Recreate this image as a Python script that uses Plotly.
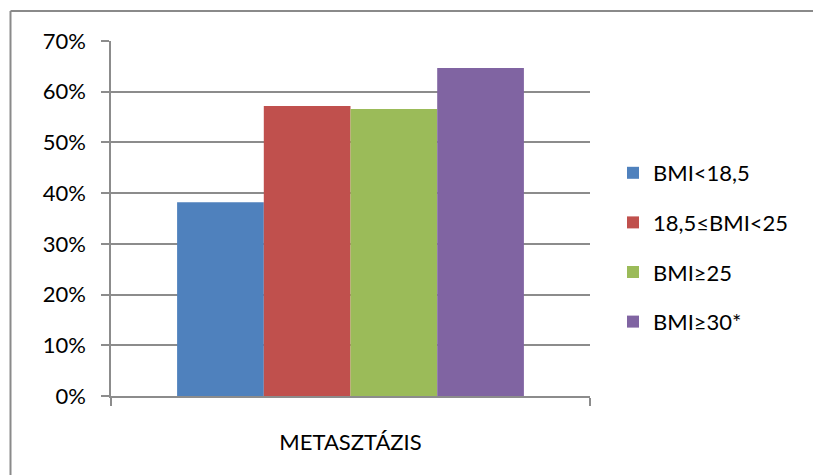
import plotly.graph_objects as go

# Share of patients with metastasis, by BMI group
category = ["METASZTÁZIS"]
groups = ["BMI<18,5", "18,5≤BMI<25", "BMI≥25", "BMI≥30*"]
values = [0.382, 0.572, 0.566, 0.647]
colors = ["#4F81BD", "#C0504D", "#9BBB59", "#8064A2"]

W, H = 813, 475
L, R, T, B = 111, 223, 41, 79
FONT = "Lato"
GRID = "#8C8C8C"
TXT = "#000000"

fig = go.Figure()
for i, (name, val, col) in enumerate(zip(groups, values, colors)):
    fig.add_trace(go.Bar(
        x=category, y=[val], name=name, marker_color=col,
        marker_line_width=0, legendgroup=f"g{i}",
    ))

pw = W - L - R
ph = H - T - B
def px_x(p):
    return (p - L) / pw
def px_y(p):
    return (H - B - p) / ph

# outer chart frame (left and top edges visible)
fig.add_shape(type="line", xref="paper", yref="paper",
              x0=px_x(10.5), x1=px_x(W + 5), y0=px_y(11), y1=px_y(11),
              line=dict(color="#8A8A8A", width=2))
fig.add_shape(type="line", xref="paper", yref="paper",
              x0=px_x(10.5), x1=px_x(10.5), y0=px_y(11), y1=px_y(H + 5),
              line=dict(color="#8A8A8A", width=2))

fig.update_layout(
    width=W, height=H,
    margin=dict(l=L, r=R, t=T, b=B, pad=0),
    paper_bgcolor="white", plot_bgcolor="white",
    barmode="group", bargap=0.276, bargroupgap=0,
    font=dict(family=FONT, size=22, color=TXT),
    showlegend=True,
    legend=dict(
        xref="container", yref="container",
        x=613 / W, y=1 - 152 / H, xanchor="left", yanchor="top",
        traceorder="grouped", tracegroupgap=18,
        font=dict(family=FONT, size=22, color=TXT),
        bgcolor="rgba(0,0,0,0)",
    ),
    xaxis=dict(
        showline=True, linecolor=GRID, linewidth=1.5,
        ticks="outside", tickson="boundaries", ticklen=8,
        tickcolor=GRID, tickwidth=1.5,
        ticklabelstandoff=26,
        tickfont=dict(family=FONT, size=22, color=TXT),
        showgrid=False, zeroline=False,
    ),
    yaxis=dict(
        range=[0, 0.70], dtick=0.10, tickformat=".0%",
        showline=True, linecolor=GRID, linewidth=1.5,
        ticks="outside", ticklen=8, tickcolor=GRID, tickwidth=1.5,
        ticklabelstandoff=11,
        showgrid=True, gridcolor=GRID, gridwidth=1.5,
        zeroline=False,
        tickfont=dict(family=FONT, size=22, color=TXT),
    ),
)

fig.write_html("out.html")
